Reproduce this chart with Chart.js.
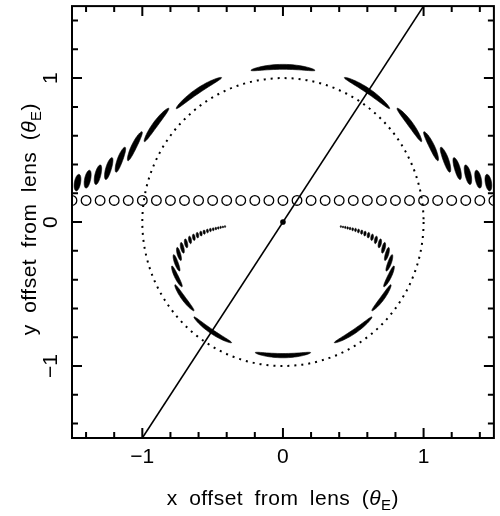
<!DOCTYPE html>
<html>
<head>
<meta charset="utf-8">
<script src="https://cdn.jsdelivr.net/npm/chart.js@4.4.0/dist/chart.umd.min.js"></script>
<style>
  html, body { margin: 0; padding: 0; background: #fff; }
  #wrap { width: 500px; height: 516px; }
</style>
</head>
<body>
<div id="wrap"><canvas id="lensChart"></canvas></div>
<script>
// Source row (theta_E units), all at the same y offset
const sourceX = [-1.5, -1.4, -1.3, -1.2, -1.1, -1.0, -0.9, -0.8, -0.7, -0.6, -0.5,
                 -0.4, -0.3, -0.2, -0.1, 0, 0.1, 0.2, 0.3, 0.4, 0.5,
                 0.6, 0.7, 0.8, 0.9, 1.0, 1.1, 1.2, 1.3, 1.4, 1.5];
const sourceRowY = 0.15;

// Outer (major) images
const majorX = [-1.534, -1.461, -1.389, -1.316, -1.240, -1.158, -1.057, -0.906, -0.607, 0,
                0.607, 0.906, 1.057, 1.158, 1.240, 1.316, 1.389, 1.461, 1.534];
const majorY = [0.256, 0.274, 0.298, 0.329, 0.372, 0.434, 0.529, 0.680, 0.910, 1.078,
                0.910, 0.680, 0.529, 0.434, 0.372, 0.329, 0.298, 0.274, 0.256];

// Inner (minor) images
const minorX = [0.412, 0.427, 0.443, 0.460, 0.477, 0.496, 0.516, 0.537, 0.560, 0.583,
                0.608, 0.634, 0.661, 0.689, 0.716, 0.740, 0.758, 0.757, 0.706, 0.507,
                0,
                -0.507, -0.706, -0.757, -0.758, -0.740, -0.716, -0.689, -0.661, -0.634,
                -0.608, -0.583, -0.560, -0.537, -0.516, -0.496, -0.477, -0.460, -0.443,
                -0.427, -0.412];
const minorY = [-0.031, -0.034, -0.037, -0.041, -0.045, -0.050, -0.055, -0.062, -0.070, -0.080,
                -0.091, -0.106, -0.124, -0.148, -0.179, -0.222, -0.284, -0.379, -0.530, -0.760,
                -0.928,
                -0.760, -0.530, -0.379, -0.284, -0.222, -0.179, -0.148, -0.124, -0.106,
                -0.091, -0.080, -0.070, -0.062, -0.055, -0.050, -0.045, -0.041, -0.037,
                -0.034, -0.031];

// Lens-source axis and lens position
const axisLineX = [-1, 1];
const axisLineY = [-1.5, 1.5];
const lensX = [0];
const lensY = [0];

const ringRadius = 1;       // Einstein ring
const sourceRadius = 0.032; // used for image shapes

const majorTicks = [-1, 0, 1];
const minorTicks = [-1.4, -1.2, -0.8, -0.6, -0.4, -0.2, 0.2, 0.4, 0.6, 0.8, 1.2, 1.4];

const FONT = '"Liberation Sans", Arial, Helvetica, sans-serif';

function pts(xs, ys) {
    return xs.map((x, i) => ({ x: x, y: ys[i] }));
}

function tickLabel(v) {
    return v < 0 ? '\u2212' + Math.abs(v) : String(v);
}

// draw "... (θ_E)" centred on x=0, baseline y=0 in current frame
function drawAxisTitle(ctx, lead) {
    const parts = [
        { t: lead + ' (', f: '21px ' + FONT, dy: 0 },
        { t: '\u03b8', f: 'italic 21px ' + FONT, dy: 0 },
        { t: 'E', f: '15px ' + FONT, dy: 5 },
        { t: ')', f: '21px ' + FONT, dy: 0 }
    ];
    ctx.wordSpacing = '5px';
    ctx.letterSpacing = '0.5px';
    let total = 0;
    parts.forEach(p => { ctx.font = p.f; p.w = ctx.measureText(p.t).width; total += p.w; });
    let x = -total / 2;
    ctx.textAlign = 'left';
    ctx.textBaseline = 'alphabetic';
    parts.forEach(p => {
        ctx.font = p.f;
        ctx.fillText(p.t, x, p.dy);
        x += p.w;
    });
}

function drawLensImage(ctx, xs, ys, px, py) {
    const th = Math.hypot(px, py);
    const phi = Math.atan2(py, px);
    const t2 = th * th;
    const halfAng = sourceRadius * (t2 / Math.abs(t2 - 1)) / th;
    const halfRad = sourceRadius * t2 / (t2 + 1);
    ctx.beginPath();
    for (let i = 0; i <= 60; i++) {
        const t = i / 60 * 2 * Math.PI;
        const a = phi + halfAng * Math.cos(t);
        const r = th + halfRad * Math.sin(t);
        const X = xs.getPixelForValue(r * Math.cos(a));
        const Y = ys.getPixelForValue(r * Math.sin(a));
        if (i === 0) ctx.moveTo(X, Y); else ctx.lineTo(X, Y);
    }
    ctx.closePath();
    ctx.fill();
    ctx.stroke();
}

const lensPlugin = {
    id: 'lensPlugin',
    beforeDatasetsDraw(chart) {
        const { ctx, chartArea: a, scales: { x, y } } = chart;
        ctx.save();
        ctx.beginPath();
        ctx.rect(a.left, a.top, a.right - a.left, a.bottom - a.top);
        ctx.clip();
        // dotted Einstein ring
        const cx = x.getPixelForValue(0), cy = y.getPixelForValue(0);
        const rx = x.getPixelForValue(ringRadius) - cx;
        const ry = cy - y.getPixelForValue(ringRadius);
        ctx.beginPath();
        ctx.ellipse(cx, cy, rx, ry, 0, 0, Math.PI * 2);
        ctx.setLineDash([2, 5]);
        ctx.lineWidth = 2;
        ctx.strokeStyle = '#000';
        ctx.stroke();
        ctx.restore();
    },
    afterDatasetsDraw(chart) {
        const { ctx, chartArea: a, scales: { x, y } } = chart;
        ctx.save();
        ctx.beginPath();
        ctx.rect(a.left, a.top, a.right - a.left, a.bottom - a.top);
        ctx.clip();
        ctx.fillStyle = '#000';
        ctx.strokeStyle = '#000';
        ctx.lineWidth = 0.6;
        chart.data.datasets.forEach(ds => {
            if (!ds.lensImages) return;
            ds.data.forEach(p => drawLensImage(ctx, x, y, p.x, p.y));
        });
        ctx.restore();

        // frame and inward ticks
        ctx.save();
        ctx.strokeStyle = '#000';
        ctx.lineWidth = 2;
        const right = Math.min(a.right, chart.width - 1);
        ctx.strokeRect(a.left, a.top, right - a.left, a.bottom - a.top);
        const drawTicks = (vals, len) => {
            ctx.beginPath();
            vals.forEach(v => {
                const px = x.getPixelForValue(v);
                ctx.moveTo(px, a.bottom); ctx.lineTo(px, a.bottom - len);
                ctx.moveTo(px, a.top); ctx.lineTo(px, a.top + len);
                const py = y.getPixelForValue(v);
                ctx.moveTo(a.left, py); ctx.lineTo(a.left + len, py);
                ctx.moveTo(right, py); ctx.lineTo(right - len, py);
            });
            ctx.stroke();
        };
        drawTicks(majorTicks, 10);
        drawTicks(minorTicks, 6);
        ctx.restore();
    },
    afterDraw(chart) {
        const { ctx, chartArea: a, scales: { x, y } } = chart;
        ctx.save();
        ctx.fillStyle = '#000';
        ctx.font = '21px ' + FONT;
        ctx.textBaseline = 'alphabetic';
        ctx.textAlign = 'center';
        majorTicks.forEach(v => {
            ctx.fillText(tickLabel(v), x.getPixelForValue(v), 463);
        });
        majorTicks.forEach(v => {
            ctx.save();
            ctx.translate(57, y.getPixelForValue(v));
            ctx.rotate(-Math.PI / 2);
            ctx.font = '21px ' + FONT;
            ctx.textAlign = 'center';
            ctx.fillText(tickLabel(v), 0, 0);
            ctx.restore();
        });
        // axis titles
        ctx.save();
        ctx.translate((a.left + a.right) / 2, 505);
        drawAxisTitle(ctx, 'x offset from lens');
        ctx.restore();
        ctx.save();
        ctx.translate(36, (a.top + a.bottom) / 2 - 3);
        ctx.rotate(-Math.PI / 2);
        drawAxisTitle(ctx, 'y offset from lens');
        ctx.restore();
        ctx.restore();
    }
};

const ctx = document.getElementById('lensChart').getContext('2d');

new Chart(ctx, {
    type: 'scatter',
    data: {
        datasets: [
            {
                label: 'lens axis',
                data: pts(axisLineX, axisLineY),
                showLine: true,
                borderColor: '#000',
                borderWidth: 1.6,
                pointRadius: 0,
                clip: 0
            },
            {
                label: 'sources',
                data: sourceX.map(v => ({ x: v, y: sourceRowY })),
                pointStyle: 'circle',
                pointRadius: 4.8,
                borderColor: '#000',
                borderWidth: 1.3,
                backgroundColor: 'rgba(0,0,0,0)',
                clip: 0
            },
            {
                label: 'lens',
                data: pts(lensX, lensY),
                pointRadius: 2.8,
                borderWidth: 0,
                backgroundColor: '#000'
            },
            {
                label: 'major images',
                data: pts(majorX, majorY),
                pointRadius: 0,
                lensImages: true
            },
            {
                label: 'minor images',
                data: pts(minorX, minorY),
                pointRadius: 0,
                lensImages: true
            }
        ]
    },
    options: {
        responsive: true,
        maintainAspectRatio: false,
        animation: false,
        layout: { padding: { top: 6, right: 0, bottom: 0, left: 0 } },
        plugins: {
            legend: { display: false },
            tooltip: { enabled: false },
            title: { display: false }
        },
        scales: {
            x: {
                type: 'linear',
                min: -1.5,
                max: 1.5,
                grid: { display: false, drawTicks: false },
                border: { display: false },
                ticks: { display: false },
                afterFit: s => { s.height = 78; }
            },
            y: {
                type: 'linear',
                min: -1.5,
                max: 1.5,
                grid: { display: false, drawTicks: false },
                border: { display: false },
                ticks: { display: false },
                afterFit: s => { s.width = 72; }
            }
        }
    },
    plugins: [lensPlugin]
});
</script>
</body>
</html>
